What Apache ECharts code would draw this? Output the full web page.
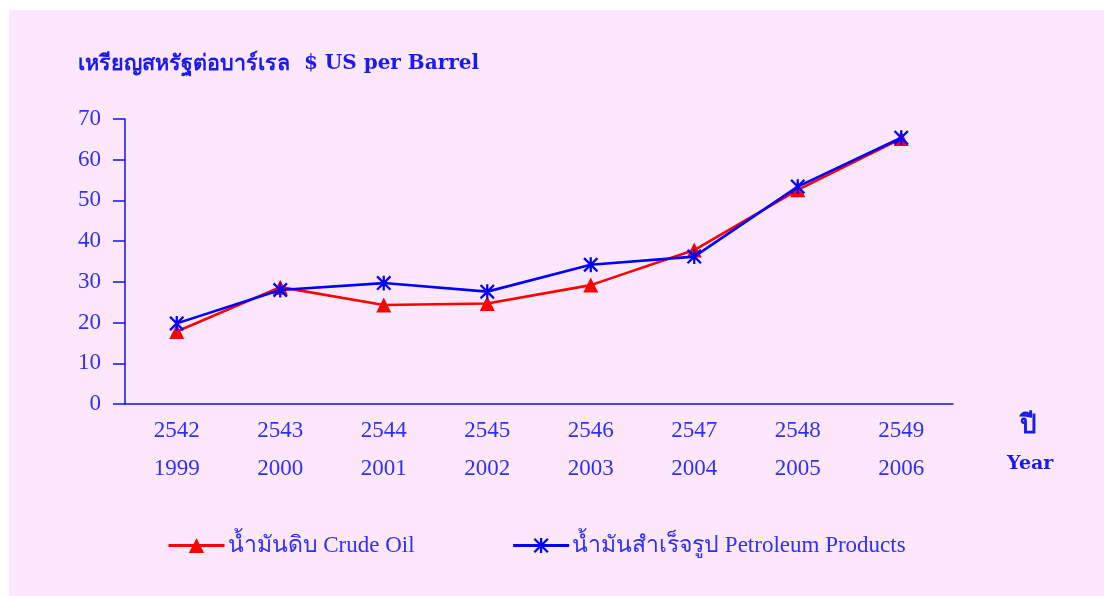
<!DOCTYPE html>
<html>
<head>
<meta charset="utf-8">
<script src="https://cdn.jsdelivr.net/npm/echarts@6/dist/echarts.min.js"></script>
<style>
  html, body { margin: 0; padding: 0; background: #ffffff; }
  #wrap { position: absolute; left: 9px; top: 10px; width: 1095px; height: 586px; background: #fde7fc; }
  #chart { position: absolute; left: -9px; top: -10px; width: 1104px; height: 596px; }
</style>
</head>
<body>
<div id="wrap"><div id="chart"></div></div>
<script>
const yearsBE = ['2542', '2543', '2544', '2545', '2546', '2547', '2548', '2549'];
const yearsAD = ['1999', '2000', '2001', '2002', '2003', '2004', '2005', '2006'];
const crudeOil = [17.8, 28.7, 24.3, 24.7, 29.2, 37.8, 52.6, 65.2];
const petroleumProducts = [19.8, 28.0, 29.7, 27.6, 34.2, 36.2, 53.4, 65.4];
const yTicks = [0, 10, 20, 30, 40, 50, 60, 70];

const categories = yearsBE.map((b, i) => b + '\n' + yearsAD[i]);
const FONT = '"Liberation Serif", "DejaVu Serif", serif';
const BOLD_FONT = '"DejaVu Serif", "Liberation Serif", serif';
const LABEL_COLOR = '#2f2fff';
const AXIS_COLOR = '#1010f0';
const asterisk = 'path://M8.5 0L11.5 0L11.5 20L8.5 20Z M2.1 -0.1L20.1 17.9L17.9 20.1L-0.1 2.1Z M17.9 -0.1L20.1 2.1L2.1 20.1L-0.1 17.9Z';

const chart = echarts.init(document.getElementById('chart'), null, { renderer: 'canvas' });
chart.setOption({
  backgroundColor: 'transparent',
  animation: false,
  textStyle: { fontFamily: FONT },
  grid: { left: 125, right: 151, top: 119, bottom: 192, containLabel: false },
  graphic: [
    { type: 'text', left: 78, top: 53, style: {
        text: '{th|เหรียญสหรัฐต่อบาร์เรล}{en|  $ US per Barrel}',
        rich: {
          th: { font: 'bold 21.5px ' + BOLD_FONT, fill: '#1a1aee' },
          en: { font: 'bold 20px ' + BOLD_FONT, fill: '#1a1aee' }
        } } },
    { type: 'text', left: 1020, top: 413, style: { text: 'ปี', font: 'bold 26px ' + BOLD_FONT, fill: '#1a1aee' } },
    { type: 'text', left: 1007, top: 455, style: { text: 'Year', font: 'bold 19px ' + BOLD_FONT, fill: '#1a1aee' } }
  ],
  legend: {
    bottom: 34,
    left: 162,
    itemGap: 97,
    itemWidth: 56,
    itemHeight: 19,
    textStyle: { fontSize: 23, color: LABEL_COLOR, fontFamily: FONT, padding: [0, 0, 0, -2] },
    data: [
      { name: 'น้ำมันดิบ Crude Oil', lineStyle: { width: 3 } },
      { name: 'น้ำมันสำเร็จรูป Petroleum Products', lineStyle: { width: 3 } }
    ]
  },
  xAxis: {
    type: 'category',
    data: categories,
    boundaryGap: true,
    axisLine: { lineStyle: { color: AXIS_COLOR, width: 1.5 } },
    axisTick: { show: false },
    axisLabel: { color: LABEL_COLOR, fontSize: 23, lineHeight: 38, margin: 8, fontFamily: FONT }
  },
  yAxis: {
    type: 'value',
    min: 0,
    max: 70,
    interval: 10,
    splitLine: { show: false },
    axisLine: { show: true, lineStyle: { color: AXIS_COLOR, width: 1.5 } },
    axisTick: { show: true, length: 12, lineStyle: { color: AXIS_COLOR, width: 1.5 } },
    axisLabel: { color: LABEL_COLOR, fontSize: 23, margin: 24, fontFamily: FONT,
      formatter: v => yTicks.includes(v) ? String(v) : '' }
  },
  series: [
    {
      name: 'น้ำมันดิบ Crude Oil',
      type: 'line',
      data: crudeOil,
      symbol: 'triangle',
      symbolSize: 15,
      itemStyle: { color: '#ff0000' },
      lineStyle: { color: '#ff0000', width: 2.6 },
      z: 2
    },
    {
      name: 'น้ำมันสำเร็จรูป Petroleum Products',
      type: 'line',
      data: petroleumProducts,
      symbol: asterisk,
      symbolSize: 15,
      itemStyle: { color: '#0000ff' },
      lineStyle: { color: '#0000ff', width: 2.6 },
      z: 3
    }
  ]
});
</script>
</body>
</html>
